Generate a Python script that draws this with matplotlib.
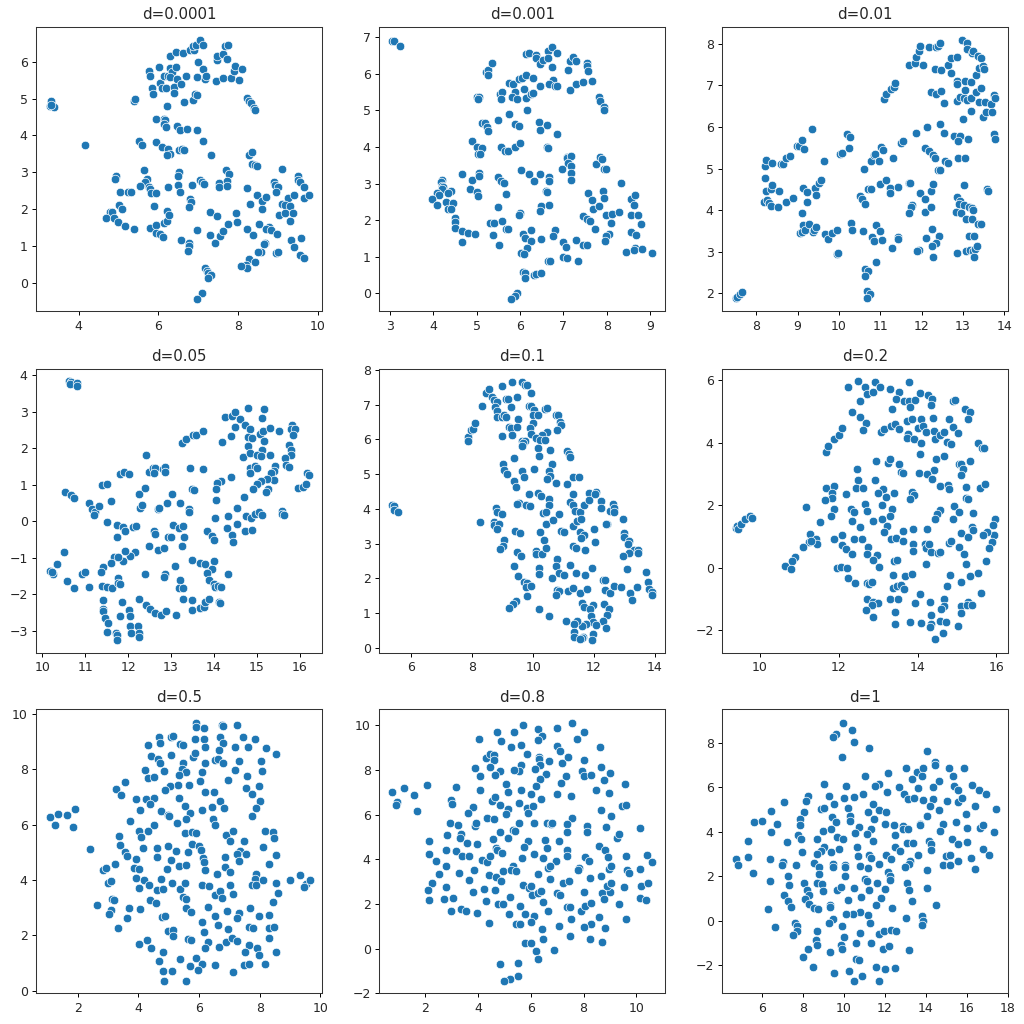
import matplotlib
matplotlib.use("Agg")
import matplotlib.pyplot as plt
from matplotlib.ticker import MultipleLocator
import numpy as np

titles = ["d=0.0001", "d=0.001", "d=0.01", "d=0.05", "d=0.1", "d=0.2", "d=0.5", "d=0.8", "d=1"]

p1 = [(3.28,4.81),(3.32,4.9),(3.3,4.93),(3.38,4.78),(3.32,4.82),(4.17,3.73),(5.38,4.95),(5.42,5.0),(5.76,5.76),(5.8,5.61),(6.01,5.85),(5.83,5.29),(5.87,5.13),(6.04,5.43),(6.08,5.3),(6.14,5.61),(6.18,5.29),(6.23,5.63),(6.28,6.15),(6.28,5.83),(6.33,5.74),(6.29,5.6),(6.43,6.27),(6.44,5.85),(6.46,5.54),(6.39,5.32),(6.39,5.15),(6.56,5.4),(6.61,6.24),(6.68,5.61),(6.8,6.32),(6.9,6.32),(6.86,6.44),(6.93,6.46),(7.04,6.59),(7.11,6.46),(7.0,6.0),(7.11,5.81),(6.97,5.59),(7.16,5.54),(7.19,5.61),(7.46,6.05),(7.47,6.17),(7.63,6.22),(7.73,6.07),(7.67,6.42),(7.75,6.47),(7.45,5.49),(7.63,5.56),(7.81,5.56),(8.01,5.52),(7.9,5.75),(7.92,5.88),(8.09,5.81),(6.64,4.9),(6.86,4.97),(6.92,5.14),(6.96,5.11),(6.21,4.81),(8.23,5.02),(8.26,4.93),(8.31,4.88),(8.39,4.75),(8.42,4.68),(5.95,4.45),(6.15,4.46),(6.16,4.41),(6.15,4.31),(6.2,4.22),(6.46,4.26),(6.53,4.15),(6.72,4.17),(6.97,4.15),(7.13,3.84),(5.52,3.84),(5.6,3.74),(5.95,3.83),(6.08,3.69),(6.24,3.64),(6.51,3.61),(6.59,3.64),(6.65,3.61),(6.29,3.5),(6.21,3.47),(7.31,3.48),(8.28,3.46),(8.34,3.54),(8.34,3.22),(8.42,3.19),(8.46,3.17),(5.63,3.07),(4.93,2.9),(4.91,2.82),(5.72,2.82),(5.67,2.74),(5.55,2.63),(5.76,2.6),(5.79,2.55),(5.81,2.43),(5.95,2.45),(6.24,2.59),(6.52,3.02),(6.5,2.89),(6.5,2.66),(6.55,2.46),(6.84,2.66),(7.04,2.79),(7.09,2.74),(7.14,2.69),(7.69,3.05),(7.78,2.96),(7.53,2.7),(7.53,2.6),(7.73,2.75),(7.72,2.63),(5.04,2.46),(5.24,2.46),(5.31,2.46),(5.02,2.11),(5.09,2.0),(5.9,2.07),(4.78,1.93),(4.84,1.91),(4.69,1.75),(4.89,1.76),(4.99,1.65),(5.16,1.55),(5.38,1.46),(5.79,1.48),(5.95,1.57),(5.95,1.36),(6.03,1.32),(6.11,1.24),(6.15,1.63),(6.21,1.68),(6.21,1.96),(6.27,1.85),(6.8,2.27),(6.82,2.18),(6.77,2.05),(7.29,1.92),(7.47,1.82),(6.97,1.43),(7.29,1.29),(6.57,1.16),(6.77,1.07),(6.77,1.0),(6.75,.85),(7.42,1.07),(7.54,1.26),(7.63,1.39),(7.74,1.59),(7.94,1.88),(7.98,1.66),(8.21,2.56),(8.46,2.39),(8.3,2.14),(8.59,2.21),(8.7,2.32),(8.59,2.0),(8.23,1.46),(8.53,1.59),(8.37,1.29),(8.76,1.5),(8.69,1.46),(8.81,1.43),(8.97,1.32),(8.68,1.09),(8.65,1.05),(8.56,.84),(8.5,.82),(8.28,.64),(8.42,.56),(8.2,.48),(8.21,.41),(8.06,.46),(8.95,.8),(9.0,.83),(9.33,1.16),(9.4,.97),(9.58,1.22),(9.56,.75),(9.66,.68),(9.09,3.08),(8.89,2.74),(8.93,2.66),(8.99,2.59),(8.94,2.46),(9.25,2.31),(9.4,2.39),(9.5,2.9),(9.51,2.79),(9.56,2.74),(9.64,2.6),(9.66,2.29),(9.78,2.37),(9.09,2.14),(9.18,2.11),(9.29,2.07),(9.01,1.85),(9.17,1.9),(9.38,1.9),(9.3,1.68),(7.17,.39),(7.22,.32),(7.24,.25),(7.31,.2),(7.25,.12),(7.09,-.27),(6.97,-.44)]

p2 = [(3.05,6.91),(3.08,6.89),(3.22,6.77),(5.21,6.04),(5.25,6.11),(5.25,5.96),(5.35,6.3),(5.0,5.37),(5.05,5.36),(5.02,5.32),(5.12,4.65),(5.2,4.65),(5.23,4.56),(5.25,4.43),(4.88,4.16),(5.0,4.01),(5.12,3.97),(5.03,3.82),(5.08,3.8),(5.49,4.73),(5.74,4.9),(5.87,4.63),(5.97,4.58),(5.55,4.01),(5.65,3.89),(5.71,3.89),(5.89,4.01),(6.0,4.12),(5.53,5.45),(5.58,5.5),(5.56,5.3),(5.74,5.76),(5.84,5.71),(5.87,5.51),(5.82,5.38),(5.93,5.3),(5.98,5.86),(6.05,5.88),(6.13,5.98),(6.3,5.88),(6.09,5.59),(6.13,5.34),(6.15,5.02),(6.24,5.44),(6.3,5.47),(6.45,5.66),(6.14,6.54),(6.2,6.57),(6.36,6.52),(6.36,6.42),(6.45,6.26),(6.52,6.39),(6.65,6.62),(6.65,6.42),(6.74,6.74),(6.86,6.57),(6.73,6.2),(6.76,5.84),(6.66,5.73),(6.8,5.66),(6.84,5.66),(7.1,6.1),(7.15,6.35),(7.22,6.47),(7.3,6.35),(7.15,5.57),(7.28,5.73),(7.45,5.78),(7.54,6.3),(7.54,6.22),(7.56,6.08),(7.65,5.81),(7.83,5.37),(7.85,5.25),(7.93,5.09),(7.94,5.0),(6.43,4.68),(6.61,4.61),(6.46,4.46),(6.86,4.36),(6.61,3.99),(6.64,3.97),(7.08,3.74),(7.09,3.7),(7.18,3.75),(7.1,3.56),(6.96,3.4),(7.17,3.48),(7.17,3.29),(7.17,3.11),(7.76,3.53),(7.85,3.72),(7.88,3.68),(7.94,3.39),(7.99,3.4),(8.33,3.01),(7.92,2.81),(7.93,2.6),(7.56,2.75),(7.65,2.55),(7.67,2.3),(7.81,2.4),(7.45,2.11),(7.55,2.03),(7.62,1.99),(7.73,1.76),(7.97,2.15),(8.12,2.18),(8.27,2.23),(8.09,1.91),(8.06,1.63),(7.97,1.56),(7.95,1.42),(8.55,2.59),(8.66,2.69),(8.62,2.42),(8.55,2.14),(8.72,2.15),(8.78,1.89),(8.55,1.69),(8.68,1.59),(8.45,1.12),(8.65,1.23),(8.63,1.19),(8.81,1.2),(9.04,1.1),(4.65,3.26),(4.2,3.1),(4.18,3.05),(4.19,2.94),(4.23,2.92),(4.2,2.86),(4.4,2.81),(4.33,2.75),(4.08,2.75),(4.12,2.7),(3.97,2.59),(4.07,2.42),(4.28,2.5),(4.46,2.48),(4.34,2.31),(4.4,2.31),(4.88,3.11),(4.85,2.85),(5.0,2.76),(5.02,2.66),(5.06,3.28),(5.05,3.22),(5.49,3.18),(5.56,3.08),(5.62,3.01),(5.68,2.72),(5.5,2.35),(4.5,2.05),(4.5,1.96),(4.5,1.78),(4.65,1.71),(4.79,1.66),(4.95,1.61),(4.66,1.4),(5.31,1.93),(5.39,1.91),(5.58,1.99),(5.68,1.76),(5.72,1.76),(5.37,1.59),(5.52,1.31),(6.02,3.36),(6.2,3.26),(6.45,3.26),(6.32,3.06),(6.67,3.18),(6.67,3.06),(6.59,2.81),(6.61,2.76),(6.48,2.39),(6.46,2.25),(6.66,2.42),(5.99,2.19),(5.97,2.14),(6.07,1.61),(6.12,1.52),(6.24,1.72),(6.24,1.44),(6.48,1.49),(6.8,1.72),(6.76,1.56),(6.98,1.41),(7.05,1.27),(7.29,1.46),(7.46,1.31),(7.54,1.32),(6.15,1.24),(6.02,1.09),(6.09,1.07),(6.65,.89),(6.7,.89),(6.98,1.0),(7.07,.96),(7.33,.88),(6.07,.58),(6.12,.57),(6.12,.41),(6.32,.51),(6.37,.53),(6.48,.57),(5.93,.02),(5.87,-.07),(5.79,-.16)]

p3 = [(7.52,1.88),(7.54,1.92),(7.6,1.98),(7.65,2.04),(10.69,2.06),(10.75,1.98),(10.69,1.89),(10.63,2.58),(10.71,2.55),(10.63,2.43),(10.91,2.75),(9.96,2.95),(9.98,2.97),(9.07,3.44),(9.11,3.48),(9.13,3.64),(9.18,3.52),(9.28,3.66),(9.38,3.48),(9.41,3.52),(9.44,3.59),(9.67,3.42),(9.74,3.31),(9.83,3.46),(9.96,3.52),(10.29,3.7),(10.31,3.52),(10.58,3.5),(10.81,3.36),(10.85,3.27),(10.89,3.65),(10.99,3.51),(11.05,3.29),(11.29,3.1),(11.42,3.36),(11.43,3.31),(9.1,3.93),(9.24,4.19),(9.13,4.53),(9.24,4.43),(9.42,4.54),(9.44,4.37),(9.53,4.65),(9.57,4.73),(8.22,4.77),(8.23,4.45),(8.36,4.51),(8.39,4.6),(8.55,4.47),(8.19,4.2),(8.26,4.25),(8.31,4.17),(8.36,4.11),(8.53,4.08),(8.72,4.2),(8.89,4.3),(8.22,5.06),(8.24,5.21),(8.38,5.13),(8.59,5.1),(8.66,5.11),(8.72,5.25),(8.83,5.31),(8.99,5.53),(9.03,5.54),(9.11,5.68),(9.16,5.47),(9.35,5.96),(9.63,5.17),(10.02,5.34),(10.07,5.38),(10.2,5.83),(10.26,5.75),(10.24,5.49),(10.5,4.33),(10.57,4.27),(10.63,4.15),(10.61,4.99),(10.78,5.19),(10.84,5.32),(10.87,5.36),(10.98,5.17),(11.02,5.52),(11.07,5.45),(11.3,5.25),(10.71,4.52),(10.79,4.52),(11.0,4.62),(11.13,4.73),(11.24,4.54),(11.24,4.41),(11.43,4.56),(11.5,5.62),(11.55,5.66),(11.87,5.86),(12.14,6.0),(12.45,6.07),(12.54,5.86),(11.09,6.68),(11.13,6.78),(11.27,6.92),(11.33,6.95),(11.37,7.06),(11.69,7.48),(11.84,7.54),(11.87,7.69),(11.95,7.83),(11.96,7.94),(12.17,7.91),(12.04,7.48),(12.35,7.91),(12.39,7.95),(12.45,8.01),(12.32,7.39),(12.48,7.37),(12.22,6.84),(12.35,6.78),(12.47,6.87),(12.54,6.57),(12.63,7.49),(12.71,7.66),(12.87,7.67),(12.71,7.3),(12.86,7.11),(12.85,7.04),(12.87,6.63),(12.93,6.71),(13.03,6.7),(13.11,6.65),(13.19,6.7),(13.06,7.11),(13.19,7.08),(13.06,6.89),(13.32,7.25),(13.32,6.83),(13.45,6.93),(13.0,6.18),(13.19,6.38),(13.4,6.61),(13.54,6.59),(13.69,6.54),(13.48,6.24),(13.56,6.35),(13.71,6.35),(13.76,6.77),(13.78,6.7),(12.98,8.08),(13.09,8.01),(13.09,7.87),(13.22,7.77),(13.24,7.83),(13.36,7.71),(13.43,7.66),(13.4,7.42),(13.49,7.47),(13.51,7.39),(13.76,5.82),(13.78,5.72),(12.78,5.79),(12.94,5.77),(12.89,5.65),(13.12,5.7),(12.89,5.25),(13.06,5.25),(12.09,5.49),(12.18,5.42),(12.29,5.32),(12.33,5.25),(12.39,4.97),(12.44,4.97),(12.56,5.17),(12.65,5.14),(11.7,4.66),(11.72,4.65),(11.96,4.41),(12.09,4.26),(12.22,4.45),(12.28,4.63),(12.09,3.96),(12.22,4.07),(11.76,4.13),(11.74,4.08),(11.69,3.92),(13.03,4.61),(12.87,4.31),(12.93,4.23),(12.91,4.15),(13.03,4.13),(13.16,4.08),(13.23,4.04),(13.25,4.0),(12.83,3.96),(12.95,3.93),(13.08,3.79),(13.21,3.79),(13.37,3.66),(13.43,3.66),(13.58,4.52),(13.6,4.47),(12.26,3.55),(12.43,3.38),(12.11,3.33),(12.35,3.2),(12.26,3.14),(12.27,2.88),(11.94,3.04),(11.9,3.03),(13.15,3.38),(13.27,3.38),(13.07,3.03),(13.18,3.04),(13.24,3.03),(13.29,3.07),(13.34,3.14),(13.27,2.88),(12.87,2.96)]

p4 = [(10.63,3.84),(10.68,3.81),(10.64,3.76),(10.82,3.79),(10.82,3.71),(10.54,.81),(10.68,.72),(10.75,.64),(11.09,.51),(11.15,.33),(11.23,.26),(11.21,.16),(11.31,.42),(11.61,.55),(11.4,.98),(11.51,1.03),(11.51,-.03),(11.82,1.3),(11.9,1.35),(12.01,1.3),(12.42,1.82),(12.25,.76),(12.39,.9),(12.28,.36),(12.32,.45),(12.49,1.35),(12.57,1.45),(12.63,1.46),(12.6,1.33),(12.82,1.42),(12.87,1.48),(12.87,1.35),(12.7,.33),(12.72,.37),(12.91,.49),(13.03,.74),(13.22,.51),(13.41,.33),(13.43,.26),(13.26,2.14),(13.36,2.24),(13.51,2.35),(13.59,2.36),(13.74,2.48),(13.45,1.45),(13.74,1.42),(13.48,.88),(13.54,.86),(14.18,2.18),(14.27,2.85),(14.42,2.88),(14.5,3.0),(14.62,2.8),(14.72,2.63),(14.8,3.11),(15.16,3.07),(15.12,2.82),(14.5,2.58),(14.39,2.34),(14.83,2.53),(14.8,2.31),(14.89,2.28),(14.8,2.06),(14.69,1.77),(14.85,1.87),(15.07,2.38),(15.14,2.48),(15.16,2.21),(15.12,1.94),(15.01,1.82),(15.1,1.8),(15.31,1.82),(15.31,2.56),(15.52,2.46),(15.83,2.63),(15.79,2.53),(15.89,2.53),(15.85,2.36),(15.74,2.08),(15.79,1.94),(15.79,1.82),(15.66,1.72),(15.68,1.54),(15.74,1.48),(15.43,1.52),(15.39,1.38),(15.32,1.33),(14.84,1.45),(14.96,1.51),(15.01,1.45),(14.83,1.32),(15.39,1.13),(15.24,1.15),(15.1,1.09),(15.0,1.01),(14.91,.89),(15.27,.88),(15.22,.79),(14.39,1.21),(14.16,1.11),(14.08,1.06),(14.06,.89),(14.06,.59),(14.7,.66),(14.54,.37),(14.34,.15),(14.02,.1),(14.75,.15),(14.87,.1),(14.96,.2),(15.05,.26),(15.12,.17),(15.58,.27),(15.58,.2),(15.63,.17),(15.95,.9),(16.08,.93),(16.14,1.03),(16.18,1.31),(16.22,1.28),(14.54,-.07),(14.3,-.19),(14.72,-.27),(14.89,-.25),(14.43,-.39),(14.45,-.57),(13.83,-.27),(13.95,-.41),(14.01,-.51),(11.74,-.1),(11.88,-.16),(11.93,-.26),(12.11,-.16),(12.18,-.12),(11.75,-.44),(12.61,-.26),(12.63,-.35),(13.05,-.1),(13.19,-.18),(13.28,-.13),(12.93,-.44),(12.99,-.44),(13.3,-.44),(12.49,-.68),(12.7,-.79),(12.84,-.74),(13.26,-.68),(12.15,-.83),(12.04,-.96),(11.93,-.81),(11.88,-1.1),(11.68,-.98),(11.77,-.98),(11.59,-1.15),(11.42,-1.25),(11.36,-1.4),(10.5,-.83),(10.35,-1.18),(10.17,-1.35),(10.26,-1.45),(10.23,-1.39),(10.57,-1.63),(10.75,-1.84),(10.92,-1.45),(11.0,-1.4),(11.09,-1.8),(11.38,-1.77),(11.51,-1.8),(11.63,-1.84),(11.77,-1.55),(11.76,-1.7),(11.82,-1.72),(12.4,-1.45),(12.87,-1.45),(12.84,-1.53),(13.09,-1.23),(13.22,-1.6),(13.19,-1.82),(13.28,-1.84),(13.49,-1.06),(13.68,-1.13),(13.8,-1.16),(14.01,-1.1),(13.96,-1.32),(13.85,-1.42),(13.88,-1.6),(14.01,-1.72),(14.02,-1.79),(14.09,-1.77),(14.16,-1.8),(14.34,-1.45),(11.42,-2.15),(11.42,-2.41),(11.41,-2.47),(11.45,-2.66),(11.54,-2.79),(11.51,-3.02),(11.71,-3.07),(11.73,-3.11),(11.75,-3.24),(11.82,-2.6),(11.86,-2.21),(12.03,-2.43),(12.05,-2.6),(12.05,-2.88),(12.07,-3.07),(12.24,-2.88),(12.26,-3.07),(12.26,-3.17),(12.26,-2.14),(12.42,-2.3),(12.51,-2.39),(12.63,-2.51),(12.76,-2.58),(12.88,-2.46),(13.12,-2.58),(13.28,-2.14),(13.49,-2.16),(13.49,-2.43),(13.68,-2.38),(13.76,-2.34),(13.8,-2.22),(13.88,-2.14),(14.13,-2.21),(14.15,-2.24)]

p5 = [(5.38,4.12),(5.44,4.09),(5.44,3.97),(5.57,3.9),(8.26,3.62),(7.86,6.07),(7.86,5.97),(7.96,6.26),(8.04,6.3),(8.09,6.48),(8.33,6.97),(8.44,7.34),(8.56,7.46),(8.64,7.23),(8.71,7.14),(8.83,7.08),(8.74,6.95),(8.8,6.82),(8.83,6.66),(8.99,6.64),(9.06,6.71),(9.12,6.64),(8.99,7.54),(9.1,7.18),(9.18,7.17),(9.27,6.95),(9.48,7.21),(9.3,7.67),(9.65,7.65),(9.74,7.56),(9.8,7.57),(9.92,7.34),(9.87,6.97),(9.94,6.97),(10.03,6.86),(9.98,6.7),(10.15,6.7),(9.98,6.48),(9.5,6.59),(9.22,6.35),(9.27,6.32),(9.48,6.35),(9.91,6.32),(9.3,6.13),(8.99,6.1),(9.94,6.17),(10.39,6.88),(10.47,6.9),(10.75,6.71),(10.83,6.71),(10.88,6.51),(10.93,6.41),(10.79,6.27),(10.44,6.23),(10.28,6.14),(10.11,6.03),(10.22,5.99),(10.39,5.99),(9.62,5.97),(9.74,5.97),(9.68,5.91),(9.62,5.81),(10.15,5.76),(10.56,5.71),(10.18,5.53),(11.1,5.67),(11.18,5.58),(11.22,5.51),(9.36,5.46),(9.01,5.28),(9.03,5.12),(9.15,5.01),(9.65,5.08),(9.71,4.93),(10.04,5.14),(10.63,5.3),(10.52,5.09),(10.56,4.96),(10.44,4.86),(10.74,4.76),(11.1,4.73),(11.32,4.91),(11.5,4.93),(9.36,4.81),(9.45,4.63),(9.88,4.44),(10.16,4.47),(10.25,4.37),(10.51,4.29),(10.51,4.12),(9.53,4.16),(9.48,4.13),(9.76,4.12),(9.9,4.09),(10.31,3.88),(10.41,3.92),(10.85,3.86),(11.31,4.44),(11.21,4.19),(11.32,4.12),(11.39,3.93),(11.53,3.9),(11.66,4.12),(11.84,4.47),(11.82,4.27),(12.08,4.49),(12.03,4.44),(12.24,4.22),(12.22,4.03),(8.77,4.03),(8.83,3.9),(8.99,3.86),(8.71,3.62),(8.71,3.53),(8.89,3.57),(8.83,3.41),(10.42,3.57),(10.66,3.67),(11.32,3.5),(11.45,3.64),(11.57,3.72),(10.92,3.37),(11.0,3.35),(11.54,3.34),(11.68,3.24),(11.57,3.15),(12.01,3.41),(12.04,3.06),(9.42,3.37),(9.57,3.32),(10.21,3.34),(10.35,3.11),(9.03,3.1),(9.02,2.94),(8.91,2.84),(9.48,2.76),(9.6,2.64),(10.11,2.78),(10.08,2.7),(10.3,2.7),(10.42,2.87),(11.3,2.93),(11.42,2.88),(11.71,2.82),(9.36,2.35),(9.5,2.06),(10.18,2.3),(10.2,2.12),(10.77,2.56),(10.74,2.35),(10.84,2.15),(10.63,2.0),(11.03,2.09),(11.21,2.38),(11.42,2.15),(11.71,2.1),(11.92,2.3),(9.7,1.89),(9.8,1.86),(9.76,1.76),(9.94,1.78),(9.8,1.5),(9.45,1.34),(9.35,1.27),(9.22,1.14),(10.18,1.11),(10.53,.91),(10.79,1.67),(10.86,1.63),(10.74,1.53),(11.14,1.63),(11.32,1.71),(11.54,1.58),(11.77,1.69),(12.29,1.94),(12.37,1.94),(12.36,1.68),(12.51,1.58),(12.65,1.78),(12.88,1.74),(12.32,1.27),(12.5,1.11),(12.41,.94),(12.29,.78),(12.39,.57),(11.62,1.29),(11.66,1.17),(11.95,1.24),(11.86,1.11),(11.89,.93),(11.97,.73),(12.06,.65),(11.75,.7),(11.62,.62),(11.43,.78),(11.33,.68),(11.07,.78),(11.35,.47),(11.33,.32),(11.65,.32),(11.59,.28),(11.54,.25),(11.95,.39),(11.92,.24),(12.96,3.7),(13.0,3.31),(12.99,3.18),(13.15,3.08),(13.1,3.0),(13.32,2.81),(13.45,2.81),(13.43,2.74),(13.14,2.72),(12.95,2.64),(13.07,2.27),(13.18,1.58),(13.24,1.37),(13.42,1.76),(13.69,2.18),(13.77,1.91),(13.79,1.7),(13.91,1.6),(13.89,1.53),(12.43,3.56),(12.38,3.56),(12.54,3.95),(12.62,4.14),(12.67,4.02),(12.65,3.9)]

p6 = [(9.39,1.29),(9.43,1.35),(9.46,1.26),(9.52,1.42),(9.63,1.58),(9.74,1.65),(9.81,1.61),(11.16,1.95),(11.53,1.46),(11.27,1.1),(11.42,.92),(11.46,.75),(11.26,.84),(11.29,.87),(11.1,.67),(10.89,.36),(10.81,.23),(10.64,.07),(10.78,-.03),(11.69,3.7),(11.73,3.9),(11.87,4.13),(12.0,4.25),(12.08,4.48),(12.23,5.79),(12.48,5.97),(12.67,5.79),(12.73,5.56),(12.87,5.62),(12.91,5.94),(13.05,5.77),(13.3,5.72),(13.54,5.62),(13.46,5.41),(13.65,5.33),(13.78,5.94),(13.79,5.33),(13.93,5.38),(14.05,5.59),(14.27,5.53),(14.37,5.41),(14.35,5.21),(13.82,5.13),(13.34,5.07),(12.53,5.33),(12.33,4.99),(12.53,4.82),(12.69,4.62),(12.62,4.41),(13.08,4.36),(13.15,4.45),(13.33,4.53),(13.42,4.59),(13.54,4.43),(13.72,4.7),(13.85,4.76),(13.77,4.29),(13.74,4.16),(13.9,4.11),(14.0,4.48),(14.08,4.76),(14.13,4.53),(14.21,4.33),(14.09,4.01),(14.39,4.79),(14.41,4.39),(14.43,4.11),(14.57,4.24),(14.66,4.35),(14.79,4.76),(14.89,4.5),(15.02,4.3),(14.75,4.04),(14.86,3.95),(14.89,5.33),(14.96,5.38),(15.2,5.07),(15.32,4.97),(15.27,4.77),(15.52,3.99),(15.64,3.83),(15.69,3.82),(14.05,3.64),(14.46,3.48),(14.66,3.58),(14.41,3.13),(14.03,3.04),(14.23,2.99),(14.36,2.85),(14.57,2.61),(14.78,2.65),(14.79,2.51),(13.26,3.36),(13.3,3.48),(13.53,3.33),(13.58,3.07),(13.64,3.02),(12.95,3.41),(12.46,3.16),(12.5,2.82),(12.44,2.55),(12.62,2.55),(12.93,2.82),(11.67,2.55),(11.89,2.61),(11.82,2.38),(11.82,2.24),(11.66,2.18),(12.19,2.36),(11.89,1.87),(11.81,1.65),(13.12,2.51),(13.0,2.38),(13.21,2.27),(13.41,2.38),(13.1,2.02),(13.35,1.9),(12.67,2.04),(12.73,1.82),(12.31,1.87),(12.4,1.8),(12.33,1.5),(12.53,1.32),(12.87,1.5),(13.1,1.55),(13.3,1.65),(13.23,1.35),(13.16,1.14),(13.32,.94),(13.46,.95),(13.62,1.18),(13.64,.87),(13.89,1.23),(13.89,.78),(13.88,.55),(13.85,2.44),(13.92,2.32),(13.81,2.21),(14.24,1.26),(14.19,.78),(14.21,.63),(14.3,.75),(14.35,.5),(14.51,.48),(14.57,.51),(14.56,1.85),(14.49,1.73),(14.43,1.58),(14.93,1.99),(15.04,1.78),(14.89,1.58),(15.09,1.12),(15.29,.99),(14.79,.81),(14.84,.87),(15.04,.67),(15.17,.43),(15.22,.14),(15.41,1.76),(15.38,1.3),(15.41,1.22),(15.57,2.54),(15.7,2.68),(15.22,2.58),(15.22,2.24),(15.29,2.21),(15.05,3.31),(15.1,3.33),(15.16,3.16),(15.32,3.41),(15.09,2.96),(15.97,1.56),(15.9,1.38),(15.93,1.06),(15.75,1.16),(15.65,1.04),(15.88,.84),(15.81,.63),(15.73,.21),(15.52,-.17),(15.61,-.79),(11.89,.92),(12.09,1.04),(12.4,.92),(12.6,.92),(12.08,.73),(12.19,.61),(12.33,.46),(12.75,.67),(12.73,.46),(12.98,.41),(12.87,.26),(13.03,.04),(11.97,.01),(12.05,.04),(12.21,.01),(12.23,-.33),(12.41,-.48),(12.73,-.48),(12.78,-.51),(12.84,-.45),(13.41,.23),(13.49,.26),(13.38,-.22),(13.69,-.25),(13.86,-.2),(14.22,.12),(14.81,-.22),(15.11,-.45),(15.34,-.25),(13.38,-.65),(13.49,-.59),(13.57,-.55),(13.65,-.66),(14.75,-.59),(14.05,-.83),(13.3,-.98),(13.5,-1.0),(12.71,-.99),(12.87,-1.09),(13.0,-1.11),(12.84,-1.19),(12.7,-1.35),(12.87,-1.57),(13.43,-1.4),(13.43,-1.79),(13.93,-1.11),(14.32,-1.08),(14.68,-1.0),(14.66,-1.21),(14.59,-1.32),(14.35,-1.49),(13.8,-1.74),(14.09,-1.77),(14.35,-1.79),(14.31,-1.89),(14.57,-1.69),(14.73,-1.72),(14.64,-2.08),(14.43,-2.28),(15.02,-1.86),(15.1,-1.23),(15.09,-1.43),(15.27,-1.08),(15.26,-1.19),(15.39,-1.2)]

p7 = [(1.08,6.27),(1.34,6.37),(1.64,6.34),(1.9,6.57),(1.25,5.98),(1.85,5.92),(2.41,5.13),(2.64,3.1),(3.26,7.28),(3.56,7.53),(3.42,7.08),(3.91,6.92),(4.24,6.92),(4.51,6.98),(4.38,6.76),(4.05,6.53),(3.74,6.14),(4.21,7.99),(4.33,7.7),(4.51,7.72),(4.33,8.89),(4.42,8.48),(4.65,8.39),(4.71,8.22),(4.86,7.95),(4.68,9.16),(4.71,8.96),(5.07,9.16),(5.15,9.22),(5.07,8.51),(5.37,8.93),(5.47,8.89),(5.86,9.08),(6.15,9.08),(6.19,8.8),(5.89,9.67),(5.91,9.52),(6.15,9.48),(6.68,9.16),(6.74,9.61),(6.78,9.58),(6.8,8.96),(6.66,8.7),(7.25,9.61),(7.45,9.16),(7.19,8.8),(7.6,8.8),(7.84,9.08),(8.2,8.77),(8.52,8.54),(5.79,8.43),(5.86,8.6),(5.47,8.22),(5.44,8.01),(5.57,7.89),(5.35,7.8),(5.3,7.43),(5.68,7.43),(5.04,7.4),(4.88,7.24),(5.35,6.95),(6.21,8.22),(6.09,7.89),(6.51,8.34),(6.63,8.37),(6.8,8.22),(6.03,7.57),(6.21,7.18),(6.48,7.18),(6.96,7.6),(7.33,8.3),(7.19,7.99),(7.59,7.76),(8.04,8.31),(8.07,7.95),(7.54,7.31),(7.75,7.11),(7.96,7.4),(8.02,6.86),(7.87,6.61),(7.75,6.3),(6.68,6.86),(6.42,6.63),(6.81,6.59),(6.09,6.53),(5.54,6.69),(5.71,6.43),(5.56,6.2),(5.26,6.07),(4.76,6.49),(4.97,6.36),(5.0,6.3),(6.45,6.2),(6.54,5.98),(4.51,5.99),(4.03,5.78),(4.33,5.78),(4.09,5.55),(3.37,5.59),(3.41,5.26),(4.14,5.17),(3.56,5.01),(3.62,4.87),(4.63,5.17),(4.97,5.23),(4.63,4.84),(5.07,4.71),(5.24,5.04),(5.54,5.71),(5.77,5.72),(5.91,5.69),(5.77,5.29),(5.65,5.0),(6.01,5.23),(6.07,5.1),(6.12,4.78),(6.16,4.65),(6.21,4.36),(3.23,4.58),(2.85,4.36),(2.95,4.42),(3.91,4.75),(3.87,4.42),(4.01,4.39),(4.95,4.39),(5.35,4.49),(5.57,4.55),(6.89,5.63),(7.13,5.78),(7.03,5.39),(7.48,5.39),(7.36,5.06),(7.25,4.93),(7.54,4.94),(7.33,4.69),(6.84,4.84),(6.84,4.46),(6.59,4.23),(7.01,4.29),(8.18,5.78),(8.43,5.72),(8.46,5.52),(8.11,5.2),(8.52,4.9),(8.31,4.58),(7.87,4.23),(7.84,4.02),(7.76,3.81),(7.87,3.81),(8.11,3.98),(8.52,3.9),(8.6,3.54),(8.43,3.19),(8.98,4.0),(9.31,4.19),(9.52,3.86),(9.46,3.73),(9.64,4.0),(2.99,3.9),(3.11,3.96),(3.14,3.31),(3.21,3.29),(3.11,2.93),(3.02,2.76),(3.32,2.25),(3.64,2.64),(3.68,2.99),(4.05,2.96),(4.38,3.29),(4.58,3.16),(3.93,4.06),(4.18,4.0),(4.35,3.83),(4.63,3.64),(4.8,3.67),(4.74,4.02),(5.1,3.9),(5.36,3.67),(5.54,3.9),(4.01,3.7),(5.48,3.37),(5.56,3.31),(5.56,2.99),(5.74,2.83),(6.1,3.83),(6.33,3.77),(6.51,3.45),(6.68,3.61),(6.77,3.35),(7.01,3.83),(7.13,3.48),(6.3,3.02),(6.54,2.7),(6.92,2.87),(7.31,2.81),(7.25,2.64),(7.69,2.99),(7.99,2.7),(8.29,2.73),(4.78,2.67),(4.89,2.7),(4.99,2.16),(5.14,2.19),(5.14,1.96),(6.09,2.48),(6.63,2.37),(6.15,2.12),(6.96,2.22),(7.66,2.29),(7.78,2.25),(8.29,2.25),(8.46,2.31),(8.29,1.89),(5.65,1.87),(5.74,1.83),(4.27,1.83),(4.03,1.7),(4.42,1.54),(4.82,1.41),(4.68,1.08),(5.38,1.14),(5.89,1.18),(6.09,.95),(5.71,.89),(5.98,.76),(4.82,.72),(5.1,.7),(4.86,.35),(5.57,.35),(6.31,1.77),(6.19,1.54),(6.66,1.58),(6.89,1.77),(7.08,1.89),(7.25,1.8),(7.66,1.64),(7.52,1.41),(7.92,1.54),(7.96,1.28),(8.52,1.41),(6.51,.93),(7.48,.93),(7.66,.95),(8.16,.95),(7.13,.66)]

p8 = [(.76,7.01),(1.18,7.18),(1.58,6.9),(2.05,7.33),(.94,6.55),(.9,6.45),(1.68,6.16),(3.16,7.25),(2.97,6.66),(3.01,6.49),(4.06,7.09),(4.06,7.73),(3.88,8.09),(4.02,9.37),(4.29,8.54),(4.47,8.73),(4.59,8.67),(4.59,8.45),(4.44,8.13),(4.84,7.97),(4.63,7.78),(4.74,9.7),(4.88,9.3),(5.35,9.7),(5.26,9.01),(5.69,10.01),(5.63,9.13),(5.86,8.7),(5.63,8.21),(5.55,7.94),(5.35,8.01),(5.05,7.37),(5.12,7.01),(5.63,7.09),(6.26,9.82),(6.44,9.54),(6.27,9.34),(6.98,9.9),(7.56,10.1),(8.03,9.7),(7.74,9.37),(7.01,9.06),(7.11,8.87),(8.61,9.01),(6.31,8.58),(6.31,8.48),(6.34,8.22),(6.17,8.06),(6.7,8.42),(7.18,8.3),(7.42,8.58),(8.0,8.45),(7.93,7.97),(8.03,7.73),(8.27,7.78),(8.65,8.13),(9.02,7.85),(8.79,7.57),(8.47,7.09),(8.98,6.97),(9.59,7.37),(6.58,7.82),(6.34,7.61),(7.32,7.73),(7.15,7.42),(6.2,7.28),(6.02,6.93),(7.01,6.93),(7.52,6.82),(6.4,6.69),(4.53,6.61),(4.63,6.81),(4.84,6.45),(5.55,6.52),(5.15,6.24),(5.07,6.01),(3.82,6.33),(3.62,6.09),(4.36,5.85),(4.6,5.81),(5.86,6.3),(5.89,6.09),(6.1,6.4),(5.55,5.64),(8.65,6.21),(9.45,6.4),(9.6,6.45),(9.05,5.93),(7.56,5.85),(7.39,5.57),(6.13,5.61),(6.6,5.64),(6.75,5.57),(6.79,5.64),(8.12,5.49),(8.13,5.21),(8.85,5.45),(7.36,5.21),(10.14,5.4),(2.95,5.64),(3.24,5.54),(3.88,5.48),(3.93,5.61),(2.81,5.07),(2.13,4.84),(3.34,5.12),(3.32,4.97),(3.58,4.72),(3.96,4.67),(4.84,5.21),(5.31,5.33),(5.39,5.28),(5.15,4.96),(4.57,4.93),(5.89,4.84),(6.54,4.85),(7.07,4.81),(9.26,4.97),(9.33,5.12),(5.75,4.55),(6.6,4.52),(4.67,4.52),(4.71,4.43),(8.57,4.61),(8.81,4.4),(8.92,4.12),(7.36,4.43),(7.36,4.15),(8.07,4.12),(8.21,3.91),(9.6,4.15),(10.41,4.19),(10.61,3.88),(2.13,4.24),(2.77,4.43),(3.15,4.39),(3.4,4.15),(3.66,4.15),(2.4,3.91),(2.77,3.7),(2.53,3.36),(2.27,2.96),(3.28,3.39),(3.86,3.51),(3.66,3.07),(4.16,3.96),(4.33,3.88),(4.47,4.15),(4.92,4.27),(5.65,4.07),(6.13,4.24),(6.48,4.04),(6.94,3.91),(6.65,3.6),(6.74,3.7),(4.4,3.3),(4.67,3.19),(4.88,3.03),(4.95,3.48),(5.31,3.69),(5.26,3.51),(5.45,3.48),(6.27,3.36),(6.74,3.1),(7.22,2.94),(7.46,3.03),(7.82,3.6),(7.78,3.51),(8.23,3.15),(8.65,3.24),(8.95,3.55),(9.05,3.72),(9.66,3.51),(9.74,3.39),(10.14,3.55),(2.1,2.63),(2.13,2.19),(2.77,2.75),(2.73,2.22),(3.05,2.27),(2.97,1.7),(3.35,1.79),(3.56,1.67),(3.82,2.55),(3.98,1.6),(4.23,2.67),(4.29,2.15),(4.63,2.63),(4.4,1.15),(4.77,2.0),(4.95,2.0),(5.21,2.3),(5.17,1.55),(5.59,1.91),(5.79,1.55),(5.45,1.1),(5.59,1.1),(5.69,2.84),(5.94,2.72),(6.02,2.81),(6.06,2.39),(6.27,2.48),(6.4,2.6),(6.48,2.1),(6.65,1.7),(6.11,1.48),(6.0,1.19),(6.44,.87),(6.45,.42),(5.79,.27),(6.0,.27),(6.2,-.09),(6.88,-.04),(6.27,-.45),(7.01,2.48),(7.11,2.4),(7.39,1.87),(7.49,1.87),(7.51,1.31),(7.07,1.03),(7.49,.58),(7.9,1.7),(8.07,1.91),(8.03,2.55),(8.27,2.06),(8.69,2.51),(9.02,2.52),(8.88,2.81),(9.03,2.96),(8.79,2.22),(9.52,2.75),(9.36,2.0),(10.14,2.27),(10.18,2.79),(10.44,2.96),(10.35,2.19),(8.57,1.43),(9.62,1.31),(8.28,1.1),(8.03,.96),(8.81,.91),(8.25,.42),(8.71,.31),(5.53,-.66),(4.84,-.7),(5.51,-1.22),(5.21,-1.34),(4.97,-1.46)]

p9 = [(9.98,8.9),(9.64,8.42),(9.46,8.26),(10.42,8.57),(10.5,8.04),(11.24,7.76),(9.93,7.37),(14.04,7.64),(14.47,7.16),(14.47,7.01),(13.05,6.85),(13.55,6.71),(13.86,6.85),(13.81,6.49),(13.34,6.36),(15.12,6.88),(15.33,6.49),(15.85,6.85),(14.65,6.28),(14.34,6.0),(15.35,6.07),(15.56,5.87),(16.26,6.11),(16.6,5.87),(16.91,5.71),(13.63,5.95),(12.69,6.0),(12.93,5.71),(13.13,5.47),(13.42,5.51),(13.86,5.45),(14.33,5.47),(14.21,5.16),(15.04,5.39),(15.56,5.35),(15.77,5.51),(16.39,5.16),(17.4,5.04),(14.65,4.99),(14.04,4.71),(15.95,4.8),(12.17,6.64),(11.03,6.52),(11.73,6.16),(11.5,6.04),(12.12,5.8),(10.12,6.04),(9.02,6.16),(8.27,5.63),(8.18,5.39),(9.28,5.63),(10.03,5.51),(10.5,5.56),(10.94,5.68),(9.54,5.27),(11.42,5.23),(7.09,5.35),(6.45,4.92),(8.06,4.87),(8.89,5.04),(9.04,5.07),(10.19,5.07),(11.16,4.87),(11.73,4.99),(12.07,4.87),(10.32,4.72),(9.41,4.66),(5.64,4.42),(6.0,4.47),(7.85,4.56),(9.64,4.42),(10.29,4.47),(11.45,4.56),(6.75,4.35),(7.88,4.3),(12.02,4.35),(12.43,4.3),(12.87,4.26),(12.9,4.14),(13.14,4.14),(13.71,4.35),(13.74,4.3),(14.82,4.35),(15.48,4.42),(16.03,4.18),(16.65,4.18),(16.78,4.3),(14.69,4.02),(17.3,3.99),(6.45,3.99),(5.35,3.58),(7.22,3.54),(7.79,3.86),(7.9,3.66),(8.97,4.06),(9.36,4.11),(10.72,4.22),(10.55,3.94),(11.32,4.14),(11.11,3.9),(9.67,3.78),(9.98,3.66),(8.71,3.66),(11.42,3.58),(12.49,3.85),(13.06,3.49),(13.37,3.49),(14.15,3.58),(14.26,3.46),(14.25,3.18),(15.3,3.7),(15.56,3.46),(16.03,3.54),(16.78,3.21),(17.09,2.97),(5.33,2.85),(4.73,2.78),(4.83,2.53),(6.41,2.78),(5.59,2.16),(7.06,2.66),(7.01,2.53),(7.67,2.49),(7.96,3.09),(9.02,3.33),(8.89,3.12),(8.71,3.01),(8.53,2.61),(8.79,2.42),(9.36,3.09),(9.75,3.25),(9.49,2.54),(9.46,2.42),(10.07,2.49),(10.07,2.42),(10.63,3.33),(10.68,2.9),(10.81,2.45),(11.21,2.97),(11.32,2.84),(11.19,2.37),(11.73,2.54),(12.07,2.97),(12.28,2.78),(12.48,3.3),(12.74,3.13),(13.6,2.97),(13.22,2.69),(13.19,2.57),(13.0,2.42),(14.04,2.29),(14.99,2.92),(15.17,2.97),(14.82,2.49),(15.2,2.49),(15.56,2.69),(16.18,2.82),(16.39,2.33),(7.27,2.01),(6.41,1.8),(7.31,1.61),(7.09,1.17),(8.06,1.71),(8.19,1.4),(8.32,1.17),(8.79,2.09),(8.71,1.68),(8.94,1.64),(8.97,1.32),(9.67,1.4),(9.85,1.52),(10.07,2.01),(10.51,1.49),(11.03,1.89),(11.15,1.77),(11.24,1.37),(11.63,1.71),(12.02,1.44),(12.15,2.21),(12.23,2.01),(12.25,1.82),(13.08,1.71),(13.16,1.37),(14.04,1.49),(10.85,1.08),(10.19,.92),(11.81,1.04),(11.55,.72),(13.34,.87),(14.51,.72),(7.3,.89),(7.44,.6),(6.31,.51),(8.09,.96),(8.32,.77),(8.53,.56),(8.76,.51),(9.33,.69),(9.33,.6),(12.35,.56),(11.16,.24),(10.77,.39),(10.45,.32),(10.11,.29),(13.05,.12),(13.81,.2),(13.86,.01),(13.81,-.2),(9.46,.08),(9.28,-.08),(7.62,-.11),(7.74,-.23),(6.63,-.28),(11.26,-.11),(9.9,-.23),(7.7,-.47),(7.53,-.64),(8.71,-.47),(10.03,-.73),(10.81,-.56),(11.73,-.61),(11.96,-.47),(12.28,-.4),(12.56,-.44),(8.63,-.85),(8.71,-1.09),(8.27,-1.28),(8.01,-1.61),(9.31,-1.4),(9.85,-1.09),(9.9,-1.28),(10.59,-1.0),(11.32,-1.0),(11.91,-1.28),(12.2,-1.12),(13.16,-1.33),(10.59,-1.73),(10.72,-1.77),(8.5,-2.09),(9.54,-2.33),(10.24,-2.25),(10.5,-2.7),(10.89,-2.46),(11.55,-2.09),(12.02,-2.18),(12.51,-2.13),(11.73,-2.7)]

panels = [p1, p2, p3, p4, p5, p6, p7, p8, p9]

x_limits = [(2.94,10.1),(2.75,9.35),(7.18,14.1),(9.86,16.52),(4.95,14.34),(9.05,16.3),(0.64,10.05),(0.26,11.1),(4.08,18.02)]
y_limits = [(-0.78,6.95),(-0.49,7.28),(1.57,8.4),(-3.6,4.17),(-0.14,8.03),(-2.71,6.36),(-0.1,10.17),(-2.0,10.72),(-3.26,9.51)]

lefts = [36.3, 379.3, 722.3]
rights = [322, 665.3, 1008.3]
tops = [27, 369, 709.3]
bottoms = [311.3, 652.7, 993.3]

fig = plt.figure(figsize=(10.24, 10.24), dpi=100)
W = H = 1024.0
for i, (pts, title) in enumerate(zip(panels, titles)):
    r, c = divmod(i, 3)
    ax = fig.add_axes([lefts[c]/W, 1-bottoms[r]/H, (rights[c]-lefts[c])/W, (bottoms[r]-tops[r])/H])
    a = np.array(pts)
    ax.scatter(a[:, 0], a[:, 1], s=38, c="#1f77b4", edgecolors="white", linewidths=0.5)
    ax.set_xlim(*x_limits[i])
    ax.set_ylim(*y_limits[i])
    ax.set_title(title, fontsize=10.8, color="#262626", pad=5.5)
    ax.tick_params(labelsize=9, length=3.2, width=0.7, labelcolor="#262626", pad=3)
    for s in ax.spines.values():
        s.set_linewidth(0.75)
        s.set_color("#333333")
    if i == 8:
        ax.xaxis.set_major_locator(MultipleLocator(2))
fig.savefig("out.png", dpi=100)
